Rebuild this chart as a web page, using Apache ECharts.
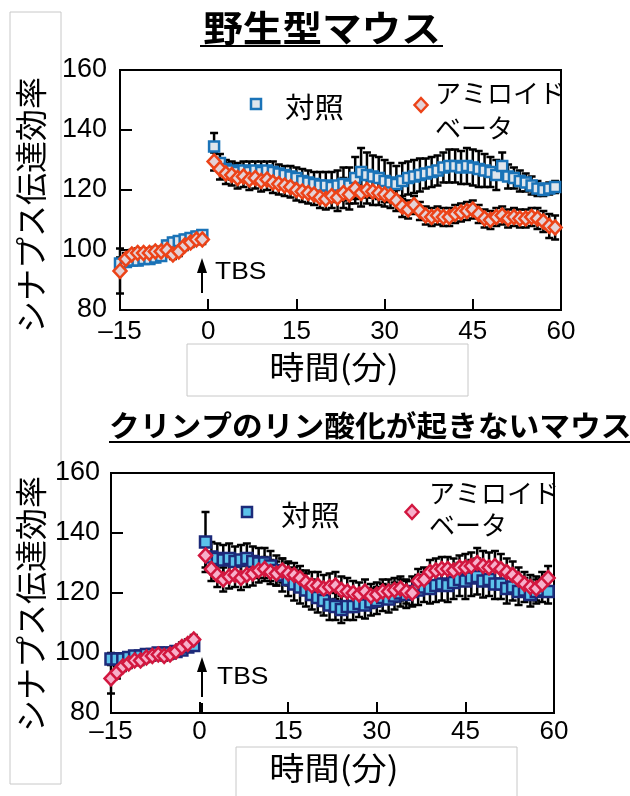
<!DOCTYPE html>
<html>
<head>
<meta charset="utf-8">
<script src="https://cdn.jsdelivr.net/npm/echarts@6/dist/echarts.min.js"></script>
<style>
  html, body { margin: 0; padding: 0; background: #fff; }
  #chart { width: 630px; height: 796px; }
</style>
</head>
<body>
<div id="chart"></div>
<script>
// 時間（分）
const timePre = [-15, -14, -13, -12, -11, -10, -9, -8, -7, -6, -5, -4, -3, -2, -1];
const timePost = [1, 2, 3, 4, 5, 6, 7, 8, 9, 10, 11, 12, 13, 14, 15, 16, 17, 18, 19, 20,
  21, 22, 23, 24, 25, 26, 27, 28, 29, 30, 31, 32, 33, 34, 35, 36, 37, 38, 39, 40,
  41, 42, 43, 44, 45, 46, 47, 48, 49, 50, 51, 52, 53, 54, 55, 56, 57, 58, 59];

const xTicks = [-15, 0, 15, 30, 45, 60];
const yTicks = [80, 100, 120, 140, 160];

// 野生型マウス：対照
const wtCtrlPre = [95.5, 96, 96.5, 96.5, 97, 97, 97.5, 98, 101.5, 102.5, 103, 103.5, 104, 104.5, 105];
const wtCtrlPost = [134.5, 129, 127, 126.5, 126, 126.5, 126, 126.5, 126, 126.5,
  126, 125.5, 125, 124.5, 124, 123, 122.5, 122, 121.5, 121.5,
  121, 121.5, 122, 121.5, 124, 126, 125, 124.5, 124, 123,
  122.5, 122, 123, 124, 124.5, 125, 125.5, 126, 126.5, 127.5,
  128, 128, 127.5, 128, 127.5, 127, 126.5, 126, 125, 128,
  124.5, 124, 123, 122.5, 121.5, 120.5, 120, 120.5, 121];
const wtCtrlPreErr = [2, 1.5, 1.5, 1.5, 1.5, 1.5, 1.5, 1.5, 1.5, 1.5, 1.5, 1.5, 1.5, 1.5, 1.5];
const wtCtrlPostErr = [4.5, 3, 3, 3, 3, 3, 3.5, 3, 3.5, 3,
  3.5, 3, 3, 3.5, 3.5, 4, 4, 4, 4.5, 4.5,
  5, 5, 5.5, 6, 7, 8, 7.5, 7, 7, 7,
  6.5, 6, 6, 5.5, 5.5, 5.5, 5, 5, 5, 5,
  5.5, 5.5, 5.5, 6, 6, 6, 5.5, 5, 5, 4.5,
  4, 3.5, 3.5, 3, 3, 2.5, 2, 2, 2];

// 野生型マウス：アミロイドベータ
const wtAbPre = [93, 97, 98.5, 99, 99, 99, 99.5, 99.5, 100, 98.5, 99.5, 101.5, 102.5, 103.5, 103.5];
const wtAbPost = [129.5, 127, 125.5, 125, 124, 124.5, 123.5, 124, 123, 123.5,
  122.5, 122, 121.5, 121, 120, 119.5, 119, 118.5, 117.5, 117,
  118, 117.5, 119, 118.5, 120.5, 119, 120, 119.5, 119, 118.5,
  118, 116.5, 114.5, 113.5, 115, 113, 111.5, 111, 111.5, 111,
  111, 112, 112.5, 113, 113.5, 112, 110.5, 110, 111, 111.5,
  110.5, 111, 110.5, 110.5, 111, 110.5, 109.5, 108, 107.5];
const wtAbPreErr = [7.5, 2, 1.5, 1.5, 1.5, 1.5, 1.5, 1.5, 1.5, 1.5, 1.5, 1.5, 1.5, 1.5, 1.5];
const wtAbPostErr = [3, 3.5, 3.5, 3.5, 3.5, 3.5, 3.5, 3.5, 3.5, 3.5,
  3.5, 3.5, 3.5, 3.5, 3.5, 3.5, 3.5, 3.5, 3.5, 3.5,
  4, 4.5, 5, 5, 5, 4.5, 4.5, 4.5, 4, 4,
  4, 3.5, 3.5, 3, 3, 3, 3, 3, 3, 3,
  3, 3, 3, 3, 3, 3, 3, 3, 3, 3,
  3, 3, 3, 3, 3, 3.5, 3.5, 4, 4];

// クリンプのリン酸化が起きないマウス：対照
const koCtrlPre = [98, 98, 98, 98.5, 99, 99, 99.5, 99.5, 100, 100, 100, 100.5, 101, 102, 102.5];
const koCtrlPost = [137, 132, 131.5, 131, 131.5, 130.5, 131, 131.5, 130.5, 130,
  130, 129, 127.5, 126, 124.5, 123, 122, 121, 119.5, 118.5,
  117.5, 116, 115.5, 114.5, 115.5, 115.5, 116.5, 116, 117, 117.5,
  118.5, 118, 119, 120, 119.5, 120.5, 121, 122, 121.5, 122.5,
  123, 122.5, 123.5, 124.5, 124, 125, 125.5, 124, 124.5, 123,
  123, 121.5, 122, 120.5, 121, 119.5, 120.5, 121, 120.5];
const koCtrlPreErr = [2, 1.5, 1.5, 1.5, 1.5, 1.5, 1.5, 1.5, 1.5, 1.5, 1.5, 1.5, 1.5, 1.5, 1.5];
const koCtrlPostErr = [10, 5, 5, 5, 5, 5, 5, 5, 5, 5,
  5, 5, 5, 5.5, 5.5, 5.5, 5.5, 5.5, 5, 5,
  5, 5, 4.5, 4.5, 4.5, 4.5, 4.5, 4.5, 4.5, 4.5,
  4.5, 4.5, 4.5, 4.5, 4.5, 5, 5, 5, 5, 5.5,
  5.5, 5.5, 5.5, 5.5, 6, 6, 6, 5.5, 5.5, 5,
  5, 5, 4.5, 4.5, 4, 4, 4, 4, 4];

// クリンプのリン酸化が起きないマウス：アミロイドベータ
const koAbPre = [91.5, 93.5, 95.5, 96.5, 97.5, 97.5, 98.5, 99, 99.5, 99, 99.5, 100.5, 102, 103, 104.5];
const koAbPost = [132.5, 128, 126, 124.5, 125.5, 126, 125, 126, 126.5, 127.5,
  128, 127, 126.5, 127.5, 126.5, 126, 125, 123.5, 122.5, 122.5,
  121.5, 122, 122.5, 121, 120.5, 120, 119.5, 120.5, 119, 119.5,
  120.5, 120.5, 121, 121.5, 120.5, 120, 124, 124.5, 127, 127.5,
  128, 128, 127.5, 128.5, 128.5, 129, 130, 129, 128.5, 129,
  128, 127, 126, 124.5, 123, 122, 121.5, 123, 125];
const koAbPreErr = [5, 2, 1.5, 1.5, 1.5, 1.5, 1.5, 1.5, 1.5, 1.5, 1.5, 1.5, 1.5, 1.5, 1.5];
const koAbPostErr = [4, 4, 4, 4, 4, 4, 4, 4, 4, 4,
  4, 4, 4, 4, 4, 4, 4, 4, 4.5, 4.5,
  4.5, 4.5, 4.5, 4.5, 4.5, 4, 4, 4, 4, 4,
  4, 4, 4, 4, 4, 4, 4, 4, 4, 4,
  4, 4, 4, 4, 4.5, 4.5, 5, 5, 5, 5,
  5, 4.5, 4.5, 4, 4, 4, 4, 4, 4];

const jpFont = '"Noto Sans CJK JP", sans-serif';
const numFont = '"Liberation Sans", Arial, sans-serif';

const times = timePre.concat(timePost);

// [時間, 値]
const points = (pre, post) => {
  const v = pre.concat(post);
  return times.map((t, i) => [t, v[i]]);
};

// [時間, 下端, 上端]
const bars = (pre, post, preErr, postErr) => {
  const v = pre.concat(post);
  const e = preErr.concat(postErr);
  return times.map((t, i) => [t, v[i] - e[i], v[i] + e[i]]);
};

// エラーバー描画
const renderErrorBar = (params, api) => {
  const x = api.value(0);
  const lo = api.coord([x, api.value(1)]);
  const hi = api.coord([x, api.value(2)]);
  const cap = 4;
  const style = { stroke: '#000', lineWidth: 2.5 };
  return {
    type: 'group',
    children: [
      { type: 'line', shape: { x1: lo[0], y1: lo[1], x2: hi[0], y2: hi[1] }, style },
      { type: 'line', shape: { x1: lo[0] - cap, y1: lo[1], x2: lo[0] + cap, y2: lo[1] }, style },
      { type: 'line', shape: { x1: hi[0] - cap, y1: hi[1], x2: hi[0] + cap, y2: hi[1] }, style },
    ],
  };
};

const errorSeries = (idx, data) => ({
  type: 'custom',
  xAxisIndex: idx,
  yAxisIndex: idx,
  renderItem: renderErrorBar,
  encode: { x: 0, y: [1, 2] },
  data,
  z: 1,
  silent: true,
});

const markSeries = (idx, name, symbol, size, fill, border, data, z) => ({
  name,
  type: 'scatter',
  xAxisIndex: idx,
  yAxisIndex: idx,
  symbol,
  symbolSize: size,
  itemStyle: { color: fill, borderColor: border, borderWidth: 2.5, opacity: 1 },
  data,
  z,
  silent: true,
});

const xAxisFor = (idx, margin) => ({
  type: 'value',
  gridIndex: idx,
  min: xTicks[0],
  max: xTicks[xTicks.length - 1],
  interval: 15,
  axisLine: { show: false, onZero: false },
  axisTick: { show: true, inside: true, length: 11, lineStyle: { color: '#000', width: 2 } },
  splitLine: { show: false },
  axisLabel: {
    fontSize: 26,
    fontFamily: numFont,
    color: '#000',
    margin,
    formatter: (v) => (xTicks.includes(v) ? String(v).replace('-', '\u2013') : ''),
  },
});

const yAxisFor = (idx, margin) => ({
  type: 'value',
  gridIndex: idx,
  min: yTicks[0],
  max: yTicks[yTicks.length - 1],
  interval: 20,
  axisLine: { show: false, onZero: false },
  axisTick: { show: true, inside: true, length: 12, lineStyle: { color: '#000', width: 2 } },
  splitLine: { show: false },
  axisLabel: { fontSize: 27, fontFamily: numFont, color: '#000', margin },
});

const jpText = (x, y, text, size, opts = {}) => ({
  type: 'text',
  x,
  y,
  rotation: opts.rotation || 0,
  scaleX: opts.scaleX || 1,
  style: {
    text,
    font: `${opts.bold ? 'bold ' : ''}${size}px ${opts.font || jpFont}`,
    fill: '#000',
    textAlign: opts.align || 'left',
    textVerticalAlign: 'middle',
  },
});

const box = (x, y, w, h) => ({
  type: 'rect',
  shape: { x, y, width: w, height: h },
  style: { fill: 'none', stroke: '#c8c8c8', lineWidth: 1 },
  z: 0,
});

const line = (x1, y1, x2, y2, w = 2) => ({
  type: 'line',
  shape: { x1, y1, x2, y2 },
  style: { stroke: '#000', lineWidth: w },
});

const legendSquare = (cx, cy, fill, border) => ({
  type: 'rect',
  shape: { x: cx - 5, y: cy - 5, width: 10, height: 10 },
  style: { fill, stroke: border, lineWidth: 2.5 },
});

const legendDiamond = (cx, cy, fill, border) => ({
  type: 'polygon',
  shape: { points: [[cx, cy - 7], [cx + 6.5, cy], [cx, cy + 7], [cx - 6.5, cy]] },
  style: { fill, stroke: border, lineWidth: 2.5 },
});

const arrowHead = (x, tipY) => ({
  type: 'polygon',
  shape: { points: [[x, tipY], [x + 5, tipY + 15], [x - 5, tipY + 15]] },
  style: { fill: '#000' },
});

const chart = echarts.init(document.getElementById('chart'));

chart.setOption({
  animation: false,
  backgroundColor: '#fff',
  grid: [
    { left: 120, top: 70, width: 441, height: 240, show: true, borderColor: '#000', borderWidth: 2 },
    { left: 111, top: 473, width: 443, height: 240, show: true, borderColor: '#000', borderWidth: 2 },
  ],
  xAxis: [xAxisFor(0, 9), xAxisFor(1, 6)],
  yAxis: [yAxisFor(0, 13), yAxisFor(1, 11)],
  series: [
    errorSeries(0, bars(wtCtrlPre, wtCtrlPost, wtCtrlPreErr, wtCtrlPostErr)),
    errorSeries(0, bars(wtAbPre, wtAbPost, wtAbPreErr, wtAbPostErr)),
    markSeries(0, '対照', 'rect', 10, '#dfe5ec', '#1a73b8', points(wtCtrlPre, wtCtrlPost), 3),
    markSeries(0, 'アミロイドベータ', 'diamond', [13, 14], '#e4d2d6', '#ec4318', points(wtAbPre, wtAbPost), 4),
    errorSeries(1, bars(koCtrlPre, koCtrlPost, koCtrlPreErr, koCtrlPostErr)),
    errorSeries(1, bars(koAbPre, koAbPost, koAbPreErr, koAbPostErr)),
    markSeries(1, '対照', 'rect', 11, '#5cc3ea', '#1c2a7a', points(koCtrlPre, koCtrlPost), 3),
    markSeries(1, 'アミロイドベータ', 'diamond', [13, 14], '#f7b0cb', '#d2173f', points(koAbPre, koAbPost), 4),
  ],
  graphic: [
    // 枠
    box(10, 12, 51, 772),
    box(187, 344, 281, 52),
    box(236, 747, 281, 60),

    // タイトル
    jpText(322, 28, '野生型マウス', 36, { bold: true, align: 'center', scaleX: 1.1 }),
    line(200, 46, 443, 46, 2),
    jpText(109, 426, 'クリンプのリン酸化が起きないマウス', 29, { bold: true, scaleX: 1.06 }),
    line(109, 442, 630, 442, 2),

    // 軸ラベル
    jpText(31, 205, 'シナプス伝達効率', 32, { align: 'center', rotation: Math.PI / 2 }),
    jpText(31, 604, 'シナプス伝達効率', 32, { align: 'center', rotation: Math.PI / 2 }),
    jpText(334, 367, '時間(分)', 32, { align: 'center', scaleX: 1.1 }),
    jpText(334, 768, '時間(分)', 32, { align: 'center', scaleX: 1.1 }),

    // 凡例（上）
    legendSquare(256, 104, '#dfe5ec', '#1a73b8'),
    jpText(285, 107, '対照', 28, { scaleX: 1.05 }),
    legendDiamond(421, 105, '#e4d2d6', '#ec4318'),
    jpText(435, 93, 'アミロイド', 26),
    jpText(435, 128, 'ベータ', 26),

    // 凡例（下）
    legendSquare(247, 512, '#5cc3ea', '#1c2a7a'),
    jpText(281, 515, '対照', 28, { scaleX: 1.05 }),
    legendDiamond(412, 512, '#f7b0cb', '#d2173f'),
    jpText(429, 493, 'アミロイド', 26),
    jpText(429, 525, 'ベータ', 26),

    // TBS
    line(202, 293, 202, 270, 2),
    arrowHead(202, 258),
    jpText(215, 272, 'TBS', 24, { font: numFont, scaleX: 1.1 }),
    line(202, 697, 202, 670, 2),
    line(202, 703, 202, 713, 2),
    arrowHead(202, 657),
    jpText(217, 677, 'TBS', 24, { font: numFont, scaleX: 1.1 }),
  ],
});
</script>
</body>
</html>
